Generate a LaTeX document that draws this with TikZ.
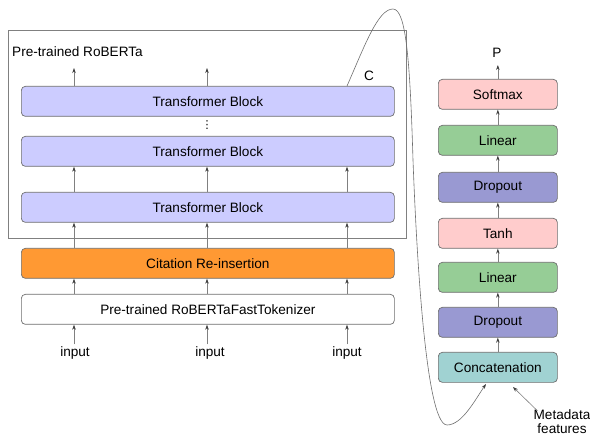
\documentclass[tikz,border=0pt]{standalone}
\usepackage{fontspec}
\setmainfont{Liberation Sans}
\newfontfamily\symfont{DejaVu Sans}
\usetikzlibrary{arrows.meta}
\definecolor{lavender}{RGB}{204,204,255}
\definecolor{citeorange}{RGB}{255,153,51}
\definecolor{softpink}{RGB}{255,204,204}
\definecolor{softgreen}{RGB}{150,205,150}
\definecolor{softpurple}{RGB}{153,153,210}
\definecolor{softteal}{RGB}{160,210,210}
\definecolor{edgegray}{RGB}{110,110,110}
\tikzset{
  blk/.style={draw=edgegray, line width=0.7pt, rounded corners=4pt, minimum height=30pt,
              inner sep=0pt, font=\fontsize{13.6}{15}\selectfont, anchor=north west},
  wideblk/.style={blk, minimum width=373pt},
  headblk/.style={blk, minimum width=119pt},
  flow/.style={draw=gray, line width=0.6pt, -{Stealth[length=5pt,width=3.5pt,color=black!75]}},
  lbl/.style={font=\fontsize{13.6}{15}\selectfont, inner sep=0pt},
}
\begin{document}
\begin{tikzpicture}[x=1pt,y=-1pt]
\useasboundingbox (0,0) rectangle (590,441);

% encoder frame
\draw[draw=gray, line width=0.5pt] (8,30) rectangle (406,238);
\node[lbl, anchor=west] (rob) at (12,52) {Pre-trained RoBERTa};

% left stack
\node[wideblk, fill=lavender] (tb1) at (21,86) {Transformer Block};
\node[wideblk, fill=lavender] (tb2) at (21,136) {Transformer Block};
\node[wideblk, fill=lavender] (tb3) at (21,192) {Transformer Block};
\node[wideblk, fill=citeorange] (cite) at (21,248) {Citation Re-insertion};
\node[wideblk, fill=white] (tok) at (21,294) {Pre-trained RoBERTaFastTokenizer};
\node[lbl, font=\symfont\fontsize{11}{12}\selectfont] (dots) at (207,125) {⋮};
\node[lbl] (C) at (369,76) {C};

\node[lbl] (in1) at (75,353) {input};
\node[lbl] (in2) at (210,353) {input};
\node[lbl] (in3) at (347,353) {input};

\foreach \x/\n in {74/1,207/2,347/3} {
  \coordinate (bx\n) at (\x,0);
  \draw[flow] (in\n.north -| bx\n) ++(0,-2) -- (tok.south -| bx\n);
  \draw[flow] (tok.north -| bx\n) -- (cite.south -| bx\n);
  \draw[flow] (cite.north -| bx\n) -- (tb3.south -| bx\n);
  \draw[flow] (tb3.north -| bx\n) -- (tb2.south -| bx\n);
}
\coordinate (top1) at (74,68);
\coordinate (top2) at (207,68);
\draw[flow] (tb1.north -| top1) -- (top1);
\draw[flow] (tb1.north -| top2) -- (top2);

% classification head
\node[headblk, fill=softpink] (soft) at (438,79) {Softmax};
\node[headblk, fill=softgreen] (lin2) at (438,125) {Linear};
\node[headblk, fill=softpurple] (drop2) at (438,172) {Dropout};
\node[headblk, fill=softpink] (tanh) at (438,218) {Tanh};
\node[headblk, fill=softgreen] (lin1) at (438,262) {Linear};
\node[headblk, fill=softpurple] (drop1) at (438,307) {Dropout};
\node[headblk, fill=softteal] (cat) at (438,352) {Concatenation};
\node[lbl] (P) at (497,53) {P};

\draw[flow] (cat) -- (drop1);
\draw[flow] (drop1) -- (lin1);
\draw[flow] (lin1) -- (tanh);
\draw[flow] (tanh) -- (drop2);
\draw[flow] (drop2) -- (lin2);
\draw[flow] (lin2) -- (soft);
\draw[flow] (soft.north) -- ++(0,-14);

% metadata input
\node[lbl, align=center, font=\fontsize{13.6}{14}\selectfont] (meta) at (562,422) {Metadata\\features};
\coordinate (metaend) at (513,387);
\draw[flow] (meta.north west) ++(4,1) -- (metaend);

% CLS representation routed to the head
\coordinate (cls) at (347,86);
\coordinate (catin) at (486,384);
\draw[draw=edgegray, line width=0.6pt, -{Stealth[length=5pt,width=3.5pt,color=black!75]}]
  (cls) .. controls (365,45) and (378,9) .. (393,9)
        .. controls (406,9) and (410,60) .. (413,160)
        .. controls (416,240) and (425,425) .. (447,425)
        .. controls (462,425) and (475,400) .. (catin);
\end{tikzpicture}
\end{document}
